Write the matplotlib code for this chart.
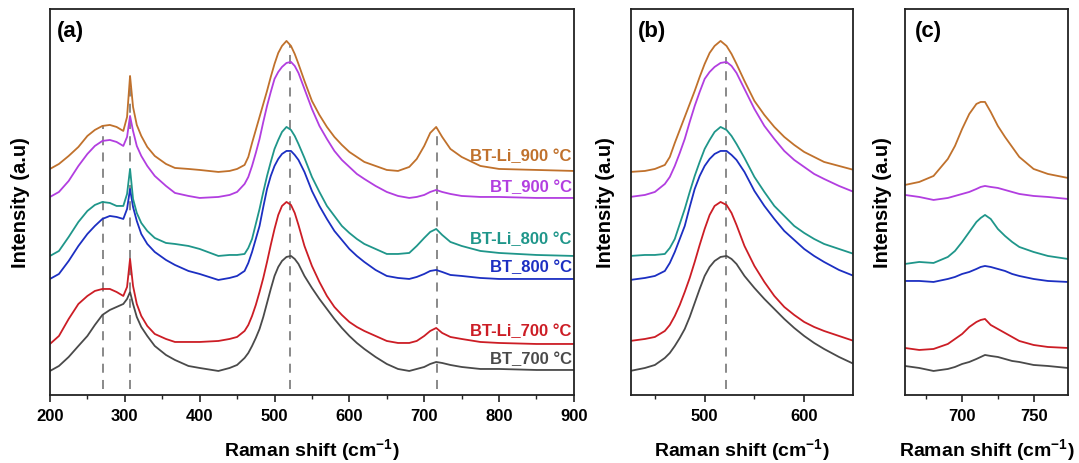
import numpy as np
import matplotlib
matplotlib.use('Agg')
import matplotlib.pyplot as plt

plt.rcParams['font.family'] = ['Liberation Sans', 'DejaVu Sans']
plt.rcParams['font.weight'] = 'bold'
plt.rcParams['mathtext.fontset'] = 'custom'
plt.rcParams['mathtext.rm'] = 'Liberation Sans:bold'
plt.rcParams['mathtext.bf'] = 'Liberation Sans:bold'

# Raman shift grid (cm-1) (a) and (b)
wn = [200, 212, 225, 238, 250, 260, 270, 280, 289, 298,
      303, 307, 311, 316, 322, 330, 340, 355, 367, 385,
      400, 425, 440, 450, 460, 465, 470, 475, 480, 485,
      490, 495, 500, 505, 510, 516, 522, 527, 532, 540,
      550, 560, 570, 580, 590, 600, 610, 620, 635, 650,
      665, 680, 690, 700, 708, 716, 724, 735, 750, 775,
      800, 850, 900]

# stacked intensities (a.u.), as drawn in panels (a) and (b)
bt_700 = [24, 29, 38, 49, 59, 70, 80, 85, 88, 91,
          96, 103, 91, 78, 68, 59, 49, 40, 35, 29,
          27, 24, 27, 30, 37, 42, 49, 57, 66, 78,
          92, 106, 119, 128, 134, 138, 139, 136, 131, 119,
          107, 96, 86, 76, 67, 59, 52, 46, 38, 31,
          26, 24, 26, 28, 31, 33, 32, 30, 28, 26,
          26, 25, 25]
btli_700 = [51, 59, 76, 91, 99, 104, 106, 106, 103, 99,
            108, 136, 109, 91, 79, 69, 61, 56, 53, 53,
            53, 54, 56, 58, 64, 70, 79, 90, 103, 117,
            133, 150, 166, 180, 189, 193, 190, 182, 170, 149,
            129, 113, 99, 88, 80, 73, 68, 64, 59, 54,
            52, 52, 54, 59, 64, 67, 62, 58, 56, 53,
            52, 51, 51]
bt_800 = [116, 121, 134, 149, 161, 169, 176, 179, 178, 176,
          186, 206, 188, 174, 161, 151, 143, 135, 130, 124,
          121, 115, 117, 119, 124, 132, 143, 156, 169, 188,
          206, 219, 229, 236, 241, 244, 244, 240, 235, 223,
          204, 189, 176, 164, 155, 146, 139, 133, 125, 119,
          117, 116, 118, 121, 124, 125, 123, 120, 119, 117,
          116, 116, 116]
btli_800 = [139, 144, 158, 173, 184, 190, 193, 192, 189, 189,
            201, 226, 196, 182, 172, 164, 157, 152, 151, 149,
            146, 139, 140, 140, 141, 147, 156, 171, 186, 203,
            219, 233, 246, 255, 263, 268, 265, 259, 251, 237,
            218, 203, 189, 179, 169, 162, 156, 151, 146, 141,
            141, 142, 149, 157, 163, 166, 160, 153, 149, 144,
            142, 140, 139]
bt_900 = [198, 203, 214, 229, 241, 249, 254, 255, 253, 249,
          258, 279, 264, 249, 239, 229, 219, 209, 202, 199,
          197, 198, 200, 203, 211, 218, 229, 242, 256, 273,
          289, 303, 316, 323, 328, 332, 333, 329, 322, 306,
          286, 269, 256, 244, 235, 228, 221, 216, 209, 203,
          199, 197, 198, 200, 203, 205, 203, 201, 199, 198,
          198, 197, 197]
btli_900 = [226, 231, 239, 248, 259, 265, 269, 270, 268, 264,
            278, 319, 288, 270, 259, 248, 239, 231, 227, 226,
            225, 223, 224, 226, 230, 238, 252, 265, 278, 291,
            304, 318, 331, 342, 349, 354, 349, 341, 331, 314,
            294, 280, 268, 258, 250, 243, 238, 233, 229, 225,
            224, 228, 236, 249, 262, 268, 258, 246, 238, 229,
            226, 225, 224]

# panel (c): the 716 cm-1 band
wn_c = [660, 670, 680, 690, 695, 700, 705, 710, 713, 716,
        720, 725, 730, 735, 740, 750, 760, 774]
c_bt_700 = [29, 27, 24, 26, 28, 31, 33, 36, 38, 40, 39, 38, 36, 34, 33, 30, 29, 27]
c_btli_700 = [47, 45, 46, 51, 56, 61, 68, 73, 75, 76, 70, 66, 62, 58, 54, 50, 48, 47]
c_bt_800 = [114, 114, 113, 116, 118, 121, 123, 126, 128, 129, 128, 126, 124, 121, 119, 116, 114, 113]
c_btli_800 = [131, 133, 132, 138, 144, 153, 163, 173, 177, 180, 176, 166, 159, 153, 148, 143, 139, 136]
c_bt_900 = [200, 198, 195, 197, 199, 201, 203, 206, 208, 209, 208, 207, 205, 203, 201, 199, 198, 196]
c_btli_900 = [210, 213, 219, 236, 249, 266, 281, 291, 293, 293, 283, 269, 258, 248, 238, 226, 221, 217]

spectra = [bt_700, btli_700, bt_800, btli_800, bt_900, btli_900]
spectra_c = [c_bt_700, c_btli_700, c_bt_800, c_btli_800, c_bt_900, c_btli_900]
names = ['BT_700 °C', 'BT-Li_700 °C', 'BT_800 °C', 'BT-Li_800 °C', 'BT_900 °C', 'BT-Li_900 °C']
colors = ['#4a4a4a', '#cc1d25', '#1c2fc2', '#1f968a', '#b23ee0', '#c0712c']

label_y = [36, 64, 128, 156, 208, 239]   # label heights in panel (a)
peak_lines = [271, 307, 521, 717]

fig = plt.figure(figsize=(10.79, 4.64), dpi=100)
ax_a = fig.add_axes([0.0463, 0.1466, 0.4856, 0.832])
ax_b = fig.add_axes([0.5848, 0.1466, 0.2057, 0.832])
ax_c = fig.add_axes([0.8387, 0.1466, 0.151, 0.832])

for s, sc, name, col, ly in zip(spectra, spectra_c, names, colors, label_y):
    ax_a.plot(wn, s, color=col, lw=1.3)
    ax_a.text(897, ly, name, color=col, ha='right', va='center', fontsize=12, fontweight='bold')
    ax_b.plot(wn, s, color=col, lw=1.3)
    ax_c.plot(wn_c, sc, color=col, lw=1.3)

for p in peak_lines:
    ax_a.vlines(p, 6, np.interp(p, wn, btli_900), colors='#808080',
                linestyles=(0, (5, 4)), lw=1.3, zorder=0)
ax_b.vlines(521, 6, 338, colors='#808080', linestyles=(0, (5, 4)), lw=1.3, zorder=0)

ax_a.set_xlim(200, 900)
ax_a.set_xticks([200, 300, 400, 500, 600, 700, 800, 900])
ax_a.set_xticks(np.arange(250, 900, 100), minor=True)
ax_b.set_xlim(426, 649)
ax_b.set_xticks([500, 600])
ax_b.set_xticks([450, 550], minor=True)
ax_c.set_xlim(660, 774)
ax_c.set_xticks([700, 750])
ax_c.set_xticks([675, 725], minor=True)

panels = [ax_a, ax_b, ax_c]
tags = ['(a)', '(b)', '(c)']
tag_x = [0.013, 0.03, 0.061]
ylab_x = [-0.039, -0.072, -0.08]
for ax, tag, tx, lx in zip(panels, tags, tag_x, ylab_x):
    ax.set_ylim(0, 386)
    ax.set_yticks([])
    ax.set_ylabel('Intensity (a.u)', fontsize=14.5, fontweight='bold')
    ax.yaxis.set_label_coords(lx, 0.5)
    ax.set_xlabel(r'Raman shift (cm$^{\mathbf{-1}}$)', fontsize=14, fontweight='bold')
    ax.xaxis.set_label_coords(0.5, -0.108)
    ax.tick_params(axis='x', which='major', direction='out', length=4.8, width=1.2,
                   pad=4.5, labelsize=12, color='#222222')
    ax.tick_params(axis='x', which='minor', direction='out', length=2.6, width=1.0, color='#222222')
    for lab in ax.get_xticklabels():
        lab.set_fontweight('bold')
    for sp in ax.spines.values():
        sp.set_linewidth(1.3)
        sp.set_color('#222222')
    ax.text(tx, 0.945, tag, transform=ax.transAxes, fontsize=16, fontweight='bold',
            va='center', ha='left')

fig.savefig('out.png', dpi=100)
